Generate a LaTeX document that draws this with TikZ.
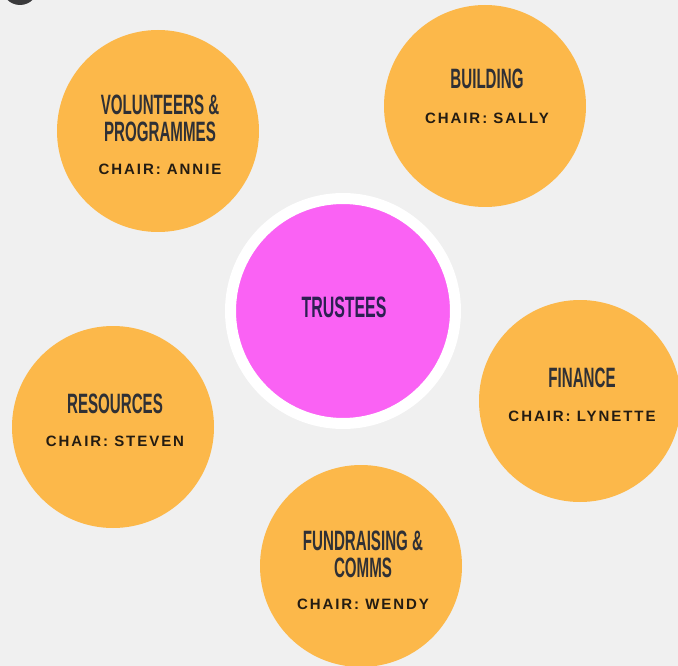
\documentclass[tikz,border=0pt]{standalone}
\usepackage{fontspec}
\setmainfont{Liberation Sans}
\newfontfamily\headfont[FakeStretch=0.54]{Liberation Sans}
\newfontfamily\chairfont[LetterSpace=13]{Liberation Sans}
\definecolor{pagebg}{HTML}{F0F0F0}
\definecolor{unitfill}{HTML}{FCB84A}
\definecolor{hubfill}{HTML}{FA62F4}
\definecolor{headtext}{HTML}{2F3035}
\definecolor{chairtext}{HTML}{241C12}
\definecolor{hubtext}{HTML}{2C2052}
\definecolor{blob}{HTML}{3A3A3C}
\begin{document}
\begin{tikzpicture}[x=1pt,y=-1pt,
unit/.style={circle,fill=unitfill,minimum size=202pt,inner sep=0pt},
hub/.style={circle,fill=hubfill,draw=white,line width=11pt,minimum size=225pt,inner sep=0pt},
head/.style={font=\headfont\bfseries\fontsize{28}{27}\selectfont,text=headtext,align=center,anchor=base,inner sep=0pt},
chair/.style={font=\chairfont\bfseries\fontsize{15}{18}\selectfont,text=chairtext,anchor=base,inner sep=0pt}]
\clip(0,0)rectangle(678,666);
\fill[pagebg](0,0)rectangle(678,666);
\fill[blob](20,-13)circle(18);
\node[hub](hub) at (343,311){};
\node[head,text=hubtext,font=\headfont\bfseries\fontsize{29.5}{30}\selectfont](hub-t) at (344,317){TRUSTEES};
% title y is the baseline of the last line
\foreach \n/\x/\y/\ty/\cy/\t/\c in {vol/158/131/142/175/{VOLUNTEERS \&\\PROGRAMMES}/ANNIE,bld/485/106/89/124/BUILDING/SALLY,fin/580/401/387/421/FINANCE/LYNETTE,res/113/427/413/446/RESOURCES/STEVEN,fnd/361/566/577/609/{FUNDRAISING \&\\COMMS}/WENDY}{
\node[unit](\n) at (\x,\y){};
\node[head](\n-t) at (\x+2,\ty){\t};
\node[chair](\n-c) at (\x+2,\cy){CHAIR: \c};}
\end{tikzpicture}
\end{document}
